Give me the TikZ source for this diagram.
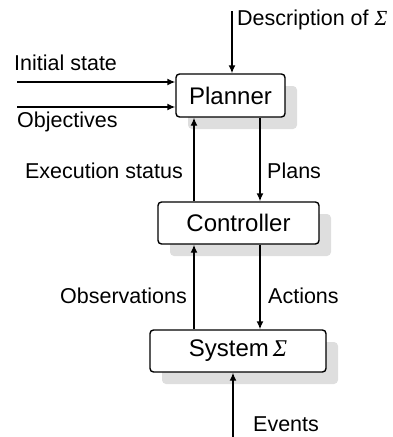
\documentclass[tikz,border=0pt]{standalone}
\usepackage{fontspec}
\setmainfont{Liberation Sans}
\newfontfamily\sigfont{Liberation Serif}
\usetikzlibrary{arrows.meta}
\tikzset{
  x=1pt,y=-1pt,
  box/.style={draw=black,line width=1.4pt,rounded corners=3.5pt,fill=white,inner sep=0pt,font=\fontsize{24}{26}\selectfont},
  shadowbox/.style={fill=black!13,draw=none,rounded corners=4pt},
  flow/.style={line width=1.4pt,-{Latex[length=8pt,width=7pt]}},
  lbl/.style={font=\fontsize{21.5}{23}\selectfont,inner sep=0pt}
}
\newcommand{\Sig}{{\sigfont\itshape Σ}}
\begin{document}
\begin{tikzpicture}
\useasboundingbox (0,0) rectangle (392,437);
% shadows
\fill[shadowbox] (188,86) rectangle (297,129);
\fill[shadowbox] (170,214) rectangle (331,256);
\fill[shadowbox] (162,342) rectangle (338,384);
% boxes
\node[box,minimum width=109pt,minimum height=43pt] (planner) at (230.5,95.5) {Planner};
\node[box,minimum width=161pt,minimum height=42pt] (controller) at (238.5,223) {Controller};
\node[box,minimum width=176pt,minimum height=42pt] (system) at (238,351) {System\,\Sig};
% free ends
\coordinate (desc) at (232,11);
\coordinate (init) at (17,82);
\coordinate (obj) at (17,107);
\coordinate (ev) at (233,437);
% arrows
\draw[flow] (desc) -- (desc |- planner.north);
\draw[flow] (init) -- (init -| planner.west);
\draw[flow] (obj) -- (obj -| planner.west);
\draw[flow] (194,0 |- controller.north) -- (194,0 |- planner.south);
\draw[flow] (260,0 |- planner.south) -- (260,0 |- controller.north);
\draw[flow] (194,0 |- system.north) -- (194,0 |- controller.south);
\draw[flow] (260,0 |- controller.south) -- (260,0 |- system.north);
\draw[flow] (ev) -- (ev |- system.south);
% labels
\node[lbl,anchor=base west] (ldesc) at (237,25) {Description of \Sig};
\node[lbl,anchor=base west] (linit) at (14,70) {Initial state};
\node[lbl,anchor=base west] (lobj) at (17,127) {Objectives};
\node[lbl,anchor=base east] (lexec) at (183,178) {Execution status};
\node[lbl,anchor=base west] (lplans) at (267,178) {Plans};
\node[lbl,anchor=base east] (lobs) at (187,303) {Observations};
\node[lbl,anchor=base west] (lact) at (268,303) {Actions};
\node[lbl,anchor=base west] (lev) at (253,431) {Events};
\end{tikzpicture}
\end{document}
